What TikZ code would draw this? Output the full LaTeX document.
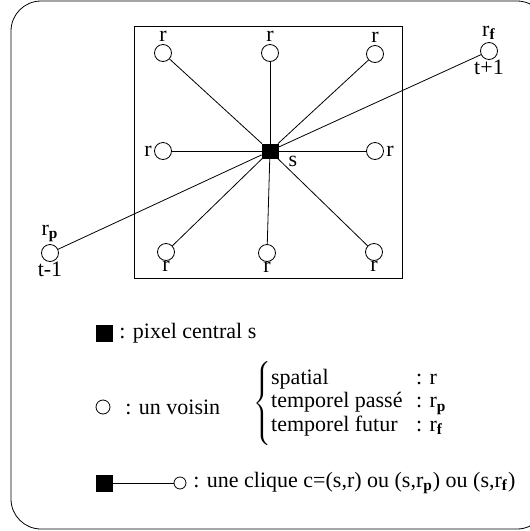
\documentclass[tikz,border=0pt]{standalone}
\usepackage{fontspec}
\setmainfont{Liberation Serif}
\usetikzlibrary{positioning}

\begin{document}
\begin{tikzpicture}[x=0.5pt,y=-0.5pt,font=\fontsize{11}{13}\selectfont,
  voisin/.style={circle,draw,inner sep=0pt,minimum size=8.5pt},
  pixel/.style={rectangle,draw,fill=black,inner sep=0pt,minimum width=8pt,minimum height=7pt},
  every label/.style={inner sep=1pt}]
  \useasboundingbox (0,0) rectangle (530,531);
  \draw[rounded corners=15pt] (11,1) rectangle (547,529);
  \draw (134,26) rectangle (402,278);

  % pixel central et ses voisins
  \node[pixel] (s) at (270,151) {};
  \node (slab) at (293,161) {s};
  \node[voisin,label=above:r] (hg) at (163,53) {};
  \node[voisin,label=above:r] (hm) at (270,53) {};
  \node[voisin,label=above:r] (hd) at (375,54) {};
  \node[voisin,label=left:r] (mg) at (163,151) {};
  \node[voisin,label=right:r] (md) at (375,151) {};
  \node[voisin,label={[inner sep=0pt]below:r}] (bg) at (166,252) {};
  \node[voisin,label={[inner sep=0pt]below:r}] (bm) at (267,253) {};
  \node[voisin,label={[inner sep=0pt]below:r}] (bd) at (374,252) {};
  \node[voisin,label=above:r\textsubscript{\textbf{p}},label={[inner sep=0pt]below:t-1}] (rp) at (50,253) {};
  \node[voisin,label=above:r\textsubscript{\textbf{f}},label={[inner sep=0pt]below:t+1}] (rf) at (489,51) {};
  \foreach \v in {hg,hm,hd,mg,md,bg,bm,bd,rp,rf}
    \draw (s) -- (\v);

  % legende
  \node[pixel,minimum width=8pt,minimum height=8pt] (lpix) at (104,333) {};
  \node[right=0pt of lpix] (tpix) {: pixel central s};
  \node[voisin,minimum size=7pt] (lvois) at (103,407) {};
  \node[right=4pt of lvois] (tvois) {: un voisin};
  \node[anchor=west,inner sep=0pt] (types) at (253,404)
    {\renewcommand{\arraystretch}{0.9}$\left\{\rule[-19pt]{0pt}{39pt}\begin{tabular}{@{}p{72.5pt}@{}l@{}}
      spatial & : r\\
      temporel passé & : r\textsubscript{\textbf{p}}\\
      temporel futur & : r\textsubscript{\textbf{f}}
    \end{tabular}\right.$};
  \node[pixel,minimum width=8pt,minimum height=8pt] (cpix) at (104,483) {};
  \node[voisin,minimum size=6pt] (cvois) at (180,483) {};
  \draw (cpix) -- (cvois);
  \node[right=0pt of cvois] (tcliq) {: une clique c=(s,r) ou (s,r\textsubscript{\textbf{p}}) ou (s,r\textsubscript{\textbf{f}})};
\end{tikzpicture}
\end{document}
